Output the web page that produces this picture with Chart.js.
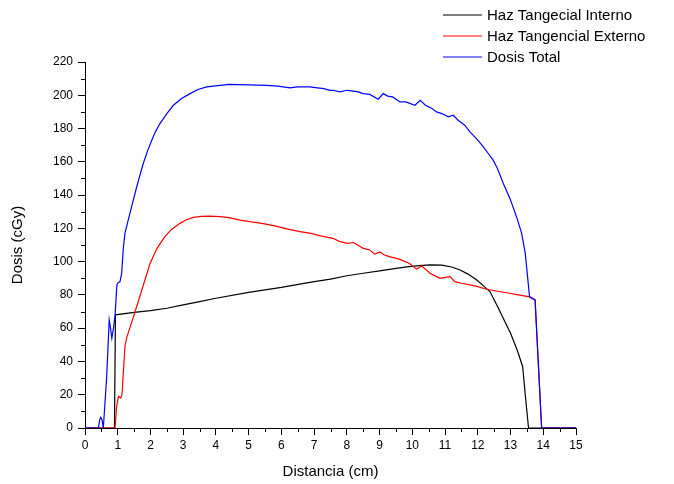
<!DOCTYPE html>
<html>
<head>
<meta charset="utf-8">
<script src="https://cdn.jsdelivr.net/npm/chart.js@4.4.0/dist/chart.umd.min.js"></script>
<style>
  html, body { margin: 0; padding: 0; background: #fff; }
  #wrap { width: 674px; height: 484px; }
</style>
</head>
<body>
<div id="wrap"><canvas id="myChart" width="674" height="484"></canvas></div>
<script>
// Distancia (cm) / Dosis (cGy)
const internoX = [0, 0.9, 0.93, 1.5, 2, 2.5, 3, 3.5, 4, 5, 6, 7, 7.5, 8, 8.5, 9, 9.5, 9.83, 10.2, 10.54, 10.9, 11.2, 11.46, 11.7, 11.97, 12.2, 12.37, 12.63, 12.8, 13.0, 13.2, 13.37, 13.45, 13.55, 15];
const internoY = [0, 0, 68, 69.5, 70.5, 72, 74, 76, 78, 81.5, 84.5, 88, 89.5, 91.5, 93, 94.5, 96, 96.8, 97.6, 98, 97.9, 96.8, 95, 92.5, 89, 85, 82, 72, 65, 57, 47, 37, 20, 0, 0];

const externoX = [0, 0.92, 0.96, 1.02, 1.09, 1.13, 1.17, 1.22, 1.27, 1.4, 1.58, 1.8, 1.99, 2.2, 2.44, 2.65, 2.9, 3.1, 3.31, 3.55, 3.82, 4.12, 4.4, 4.74, 5.04, 5.4, 5.8, 6.2, 6.57, 6.9, 7.2, 7.58, 7.8, 8.0, 8.2, 8.5, 8.7, 8.85, 9.01, 9.15, 9.3, 9.6, 9.9, 10.13, 10.29, 10.54, 10.74, 10.85, 11.0, 11.15, 11.3, 11.5, 11.76, 12.0, 12.27, 12.6, 12.88, 13.2, 13.54, 13.75, 13.95, 15];
const externoY = [0, 0, 12, 19, 18, 20, 33, 49, 54, 62, 73, 87, 99, 108, 115, 119.5, 123, 125.2, 126.6, 127.2, 127.4, 127, 126.5, 125, 124, 123, 121.5, 119.5, 118, 117, 115.5, 114, 112, 111, 111.5, 108, 107, 104.5, 105.8, 104, 103, 101.5, 99, 95.5, 97.4, 93, 91, 90, 90.5, 91, 88, 87, 86, 85, 83.4, 82.2, 81.3, 80.2, 79, 77, 0, 0];

const totalX = [0, 0.41, 0.45, 0.48, 0.52, 0.56, 0.58, 0.66, 0.74, 0.78, 0.82, 0.87, 0.92, 0.97, 0.99, 1.07, 1.12, 1.17, 1.22, 1.32, 1.45, 1.58, 1.78, 1.9, 2.04, 2.15, 2.29, 2.5, 2.7, 2.95, 3.21, 3.45, 3.72, 4.12, 4.4, 5.0, 5.55, 5.9, 6.26, 6.5, 6.87, 7.1, 7.3, 7.49, 7.59, 7.79, 8.0, 8.2, 8.35, 8.5, 8.7, 8.96, 9.11, 9.25, 9.4, 9.62, 9.8, 10.08, 10.24, 10.4, 10.6, 10.74, 10.9, 11.1, 11.25, 11.4, 11.6, 11.76, 12.0, 12.17, 12.32, 12.47, 12.6, 12.78, 13.0, 13.2, 13.34, 13.45, 13.58, 13.75, 13.95, 14.5, 15];
const totalY = [0, 0, 5, 6.4, 5, 0, 0, 30, 65, 60, 54, 60, 68, 85, 87, 88, 93, 108, 117, 125, 135, 145, 159, 166, 173, 178, 183, 189, 194, 198, 201, 203.5, 205, 206, 206.5, 206.2, 206, 205.5, 204.5, 205, 205, 204.5, 204, 203, 203, 202, 203, 202.5, 202, 201, 200.5, 197.6, 201, 199.5, 199, 196, 196, 194, 197, 194, 192, 190, 189, 187, 188, 185, 182, 178, 173, 169, 165, 161, 156, 147, 137, 126, 117, 105, 79, 77, 0, 0, 0];

const seriesNames = ["Haz Tangecial Interno", "Haz Tangencial Externo", "Dosis Total"];
const seriesColors = ["#000000", "#ff0000", "#0000ff"];

const xTicks = { min: 0, max: 15, step: 1 };
const yTicks = { min: 0, max: 220, step: 20 };

const FONT = "'Liberation Sans', Arial, sans-serif";

function toPoints(xs, ys) {
  return xs.map((x, i) => ({ x: x, y: ys[i] }));
}

// small ticks between the labelled ones, placed with the chart's own scales
const minorTicks = {
  id: "minorTicks",
  afterDraw(chart) {
    const ctx = chart.ctx;
    const area = chart.chartArea;
    const sx = chart.scales.x;
    const sy = chart.scales.y;
    ctx.save();
    ctx.strokeStyle = "#000";
    ctx.lineWidth = 1;
    ctx.beginPath();
    for (let v = xTicks.min + xTicks.step / 2; v < xTicks.max; v += xTicks.step) {
      const px = Math.round(sx.getPixelForValue(v)) + 0.5;
      ctx.moveTo(px, area.bottom);
      ctx.lineTo(px, area.bottom + 4);
    }
    for (let v = yTicks.min + yTicks.step / 2; v < yTicks.max; v += yTicks.step) {
      const py = Math.round(sy.getPixelForValue(v)) + 0.5;
      ctx.moveTo(area.left - 4, py);
      ctx.lineTo(area.left, py);
    }
    ctx.stroke();
    ctx.restore();
  }
};

// legend box in the top right corner, like the original
const cornerLegend = {
  id: "cornerLegend",
  afterDraw(chart) {
    const ctx = chart.ctx;
    const rows = [15, 36, 57];
    chart.data.datasets.forEach((ds, i) => {
      ctx.save();
      ctx.strokeStyle = ds.borderColor;
      ctx.lineWidth = 1.2;
      ctx.beginPath();
      ctx.moveTo(443, rows[i]);
      ctx.lineTo(482, rows[i]);
      ctx.stroke();
      ctx.font = "15px " + FONT;
      ctx.textBaseline = "middle";
      ctx.fillStyle = "#000";
      ctx.fillText(ds.label, 487, rows[i] + 1);
      ctx.restore();
    });
  }
};

const ctx = document.getElementById("myChart").getContext("2d");

new Chart(ctx, {
  type: "scatter",
  data: {
    datasets: [
      {
        label: seriesNames[0],
        data: toPoints(internoX, internoY),
        borderColor: seriesColors[0],
        order: 2
      },
      {
        label: seriesNames[1],
        data: toPoints(externoX, externoY),
        borderColor: seriesColors[1],
        order: 1
      },
      {
        label: seriesNames[2],
        data: toPoints(totalX, totalY),
        borderColor: seriesColors[2],
        order: 0
      }
    ]
  },
  options: {
    responsive: false,
    animation: false,
    showLine: true,
    elements: {
      point: { radius: 0, hoverRadius: 0 },
      line: { borderWidth: 1.2, tension: 0, fill: false }
    },
    layout: { padding: { top: 62, right: 98, bottom: 0, left: 0 } },
    plugins: {
      legend: { display: false },
      tooltip: { enabled: false }
    },
    scales: {
      x: {
        type: "linear",
        min: xTicks.min,
        max: xTicks.max,
        afterFit: (scale) => { scale.height = 56; },
        ticks: {
          stepSize: xTicks.step,
          color: "#000",
          padding: 3,
          maxRotation: 0,
          font: { family: FONT, size: 12 }
        },
        grid: { drawOnChartArea: false, drawTicks: true, tickLength: 7, color: "#000" },
        border: { color: "#000", width: 1 },
        title: {
          display: true,
          text: "Distancia (cm)",
          color: "#000",
          font: { family: FONT, size: 15 },
          padding: { top: 4, bottom: 3 }
        }
      },
      y: {
        min: yTicks.min,
        max: yTicks.max,
        afterFit: (scale) => { scale.width = 85; },
        ticks: {
          stepSize: yTicks.step,
          color: "#000",
          padding: 5,
          font: { family: FONT, size: 12 }
        },
        grid: { drawOnChartArea: false, drawTicks: true, tickLength: 7, color: "#000" },
        border: { color: "#000", width: 1 },
        title: {
          display: true,
          text: "Dosis (cGy)",
          color: "#000",
          font: { family: FONT, size: 15 },
          padding: { top: 9, bottom: 4 }
        }
      }
    }
  },
  plugins: [minorTicks, cornerLegend]
});
</script>
</body>
</html>
